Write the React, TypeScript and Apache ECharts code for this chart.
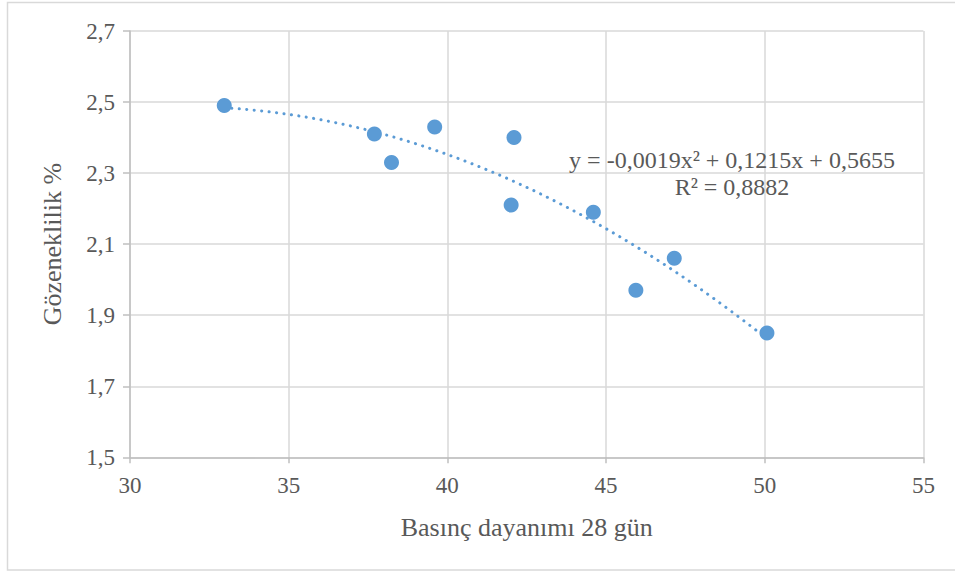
import React, { useEffect, useRef } from "react";
import * as echarts from "echarts";

const xValues = [32.97, 37.7, 38.24, 39.6, 42.1, 42.01, 44.6, 45.94, 47.15, 50.07];
const yValues = [2.49, 2.41, 2.33, 2.43, 2.4, 2.21, 2.19, 1.97, 2.06, 1.85];
const equationText = "y = -0,0019x² + 0,1215x + 0,5655";
const r2Text = "R² = 0,8882";
const xTitle = "Basınç dayanımı 28 gün";
const yTitle = "Gözeneklilik %";

function quadFit(xs: number[], ys: number[]) {
  // least squares for y = a x^2 + b x + c
  let s0 = xs.length, s1 = 0, s2 = 0, s3 = 0, s4 = 0, t0 = 0, t1 = 0, t2 = 0;
  for (let i = 0; i < xs.length; i++) {
    const x = xs[i], y = ys[i];
    s1 += x; s2 += x * x; s3 += x * x * x; s4 += x * x * x * x;
    t0 += y; t1 += x * y; t2 += x * x * y;
  }
  const M = [
    [s4, s3, s2, t2],
    [s3, s2, s1, t1],
    [s2, s1, s0, t0],
  ];
  for (let i = 0; i < 3; i++) {
    for (let k = i + 1; k < 3; k++) {
      const f = M[k][i] / M[i][i];
      for (let j = i; j < 4; j++) M[k][j] -= f * M[i][j];
    }
  }
  const r = [0, 0, 0];
  for (let i = 2; i >= 0; i--) {
    let s = M[i][3];
    for (let j = i + 1; j < 3; j++) s -= M[i][j] * r[j];
    r[i] = s / M[i][i];
  }
  return r;
}

export default function App() {
  const ref = useRef<HTMLDivElement>(null);
  useEffect(() => {
    if (!ref.current) return;
    const chart = echarts.init(ref.current, null, { renderer: "svg" });
    const [a, b, c] = quadFit(xValues, yValues);
    const xmin = Math.min(...xValues);
    const xmax = Math.max(...xValues);
    const trend: number[][] = [];
    const n = 80;
    for (let i = 0; i <= n; i++) {
      const x = xmin + ((xmax - xmin) * i) / n;
      trend.push([x, a * x * x + b * x + c]);
    }
    const font = "Liberation Serif";
    const textColor = "#595959";
    chart.setOption({
      animation: false,
      backgroundColor: "#ffffff",
      textStyle: { fontFamily: font },
      grid: { left: 130, top: 31, right: 31.6, bottom: 114.7, containLabel: false },
      xAxis: {
        type: "value",
        min: 30,
        max: 55,
        interval: 5,
        name: xTitle,
        nameLocation: "middle",
        nameGap: 57,
        nameTextStyle: { fontFamily: font, fontSize: 26, color: textColor },
        axisLine: { show: true, lineStyle: { color: "#BFBFBF", width: 1.5 } },
        axisTick: { show: true, length: 6, lineStyle: { color: "#BFBFBF", width: 1.5 } },
        axisLabel: { fontFamily: font, fontSize: 23, color: textColor, margin: 17 },
        splitLine: { show: true, lineStyle: { color: "#D9D9D9", width: 1.5 } },
      },
      yAxis: {
        type: "value",
        min: 1.5,
        max: 2.7,
        interval: 0.2,
        name: yTitle,
        nameLocation: "middle",
        nameGap: 65,
        nameRotate: 90,
        nameTextStyle: { fontFamily: font, fontSize: 26, color: textColor },
        axisLine: { show: true, lineStyle: { color: "#BFBFBF", width: 1.5 } },
        axisTick: { show: true, length: 7, lineStyle: { color: "#BFBFBF", width: 1.5 } },
        axisLabel: {
          fontFamily: font,
          fontSize: 23,
          color: textColor,
          margin: 15,
          formatter: (v: number) => v.toFixed(1).replace(".", ","),
        },
        splitLine: { show: true, lineStyle: { color: "#D9D9D9", width: 1.5 } },
      },
      graphic: [
        {
          type: "rect",
          shape: { x: 7.5, y: 2.5, width: 952, height: 567.5 },
          style: { fill: "none", stroke: "#D9D9D9", lineWidth: 1.5 },
          silent: true,
          z: -10,
        },
        {
          type: "text",
          x: 732,
          y: 160,
          style: {
            text: equationText,
            fontFamily: font,
            fontSize: 24,
            fill: textColor,
            align: "center",
            verticalAlign: "middle",
          },
          z: 100,
        },
        {
          type: "text",
          x: 732,
          y: 187,
          style: {
            text: r2Text,
            fontFamily: font,
            fontSize: 24,
            fill: textColor,
            align: "center",
            verticalAlign: "middle",
          },
          z: 100,
        },
      ],
      series: [
        {
          type: "line",
          data: trend,
          showSymbol: false,
          symbol: "none",
          smooth: false,
          lineStyle: { color: "#5B9BD5", width: 3, type: [0.1, 7.4], cap: "round", opacity: 1 },
          z: 2,
          silent: true,
        },
        {
          type: "scatter",
          data: xValues.map((x, i) => [x, yValues[i]]),
          symbol: "circle",
          symbolSize: 15,
          itemStyle: { color: "#5B9BD5", opacity: 1 },
          z: 3,
        },
      ],
    });
    return () => chart.dispose();
  }, []);
  return (
    <div
      ref={ref}
      style={{ position: "absolute", left: 0, top: 0, width: 955, height: 572 }}
    />
  );
}
